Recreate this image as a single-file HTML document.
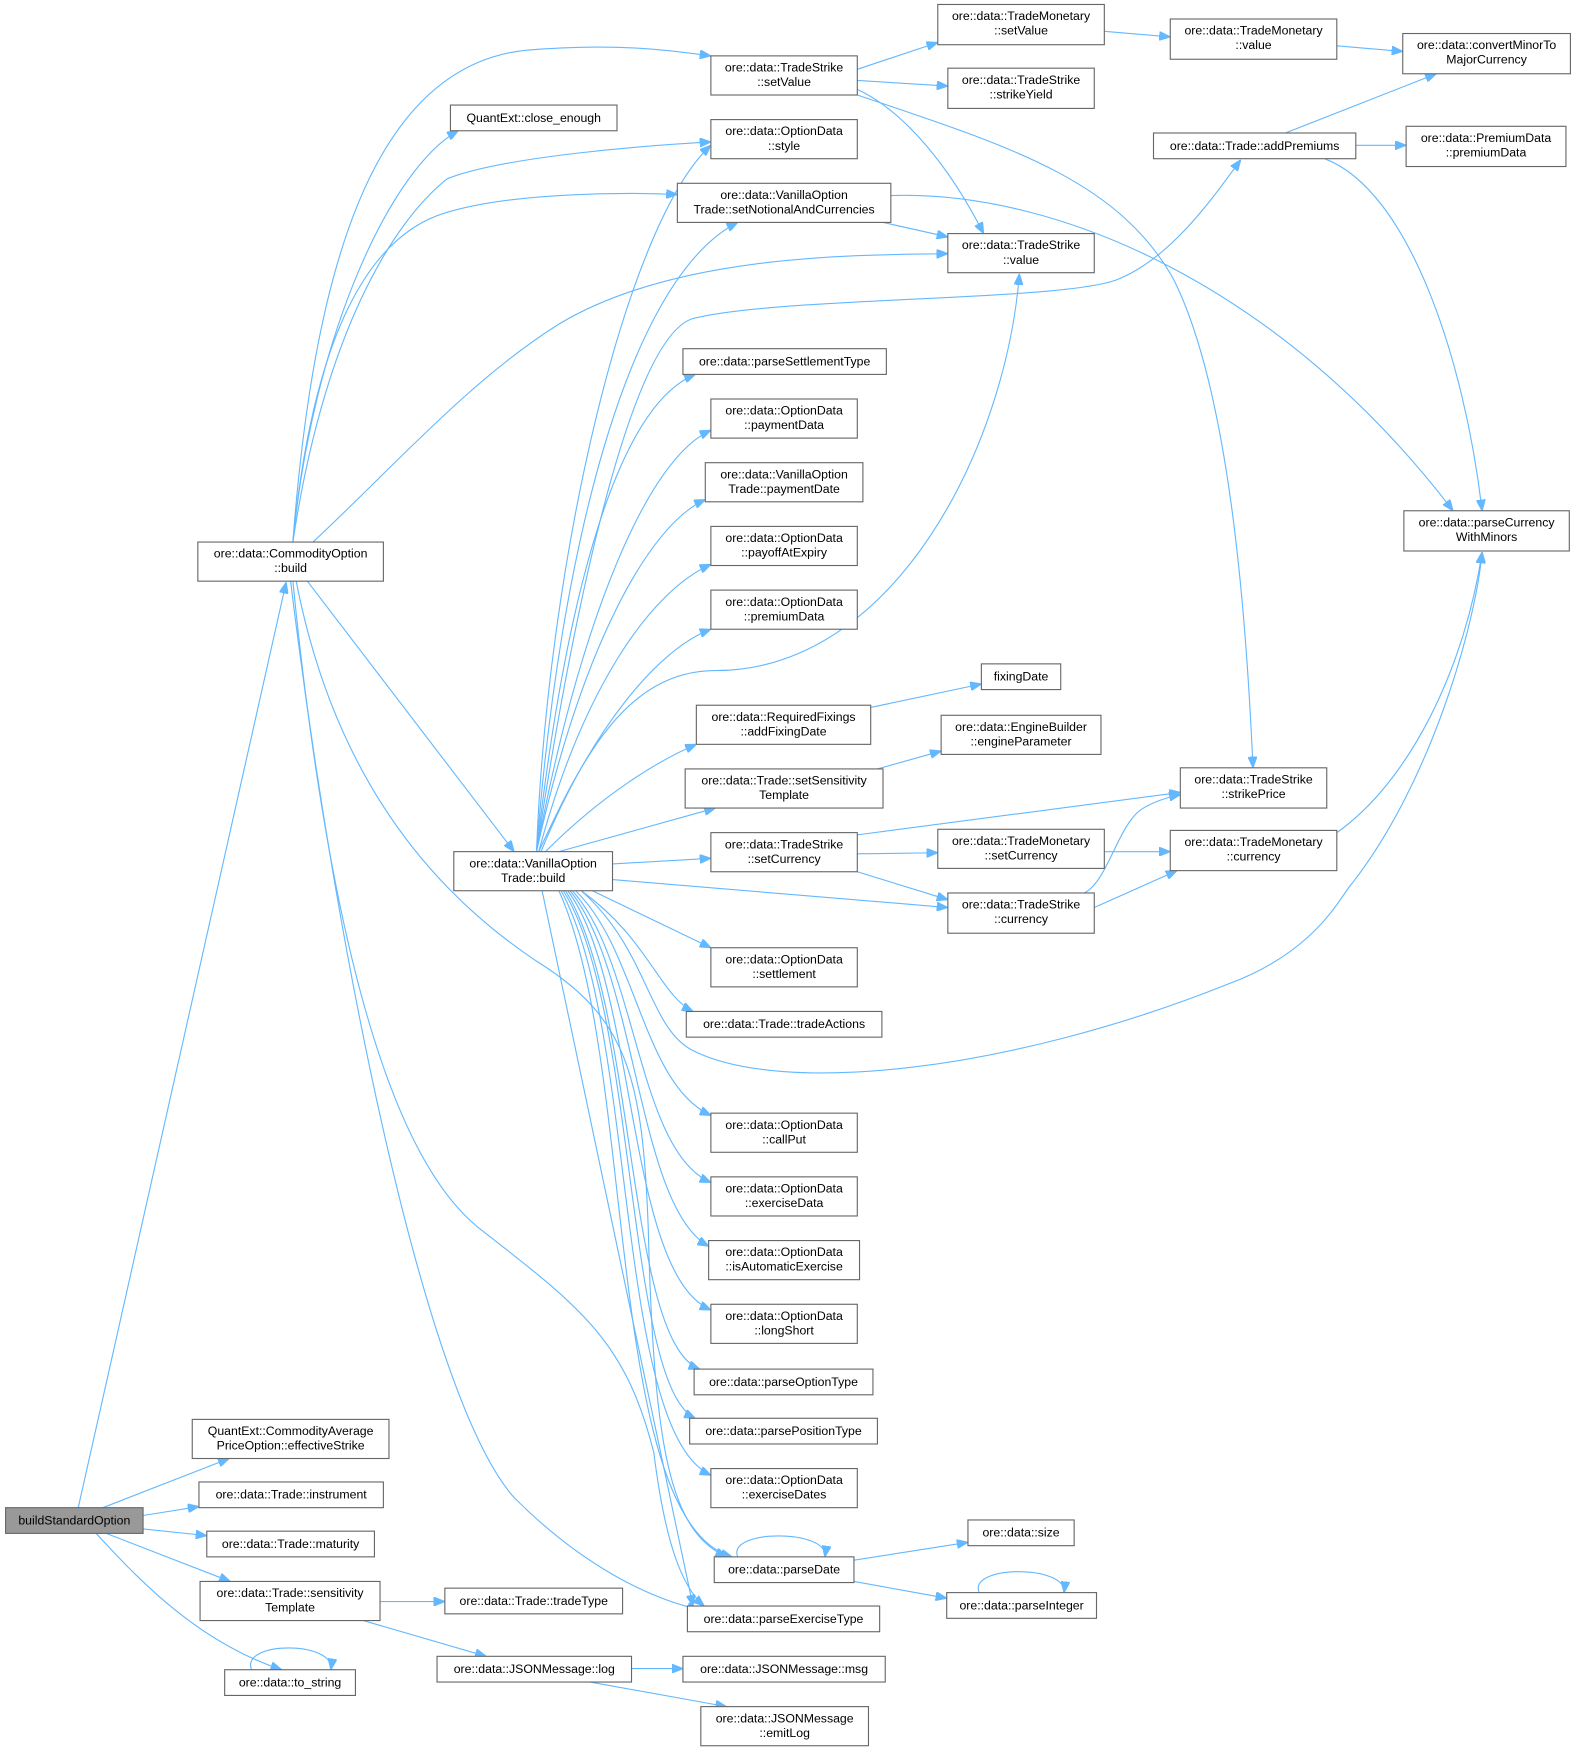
<!DOCTYPE html>
<html><head><meta charset="utf-8"><style>
html,body{margin:0;padding:0;background:#fff;}
svg{display:block;}
text{font-family:"Liberation Sans",sans-serif;font-size:11px;fill:#000;text-anchor:middle;}
rect{fill:#fff;stroke:#666;stroke-width:1;}
path{fill:none;stroke:#63b8ff;stroke-width:1;}
</style></head><body>
<svg width="1576" height="1753" viewBox="0 0 1410 1568.5" preserveAspectRatio="none" xmlns="http://www.w3.org/2000/svg">
<defs><marker id="a" markerWidth="10" markerHeight="8" refX="10" refY="4" orient="auto" markerUnits="userSpaceOnUse"><path d="M0,0 L10,4 L0,8 z" style="fill:#63b8ff;stroke:#63b8ff"/></marker></defs>
<g marker-end="url(#a)">
<!-- buildStandardOption -->
<path d="M70,1349 L256,521"/>
<path d="M92,1349 L205,1305"/>
<path d="M128,1356 L178,1348"/>
<path d="M128,1368 L185,1374"/>
<path d="M95,1372 L206,1415"/>
<path d="M86,1372 C130,1420 180,1470 252,1494"/>
<path d="M225,1494 C215,1468 300,1468 296,1494"/>
<path d="M340,1433 L398,1433"/>
<path d="M325,1450 L435,1482"/>
<path d="M565,1493 L611,1493"/>
<path d="M528,1505 L650,1527"/>
<!-- CommodityOption::build -->
<path d="M262,485 C280,250 330,60 470,45 C550,38 600,45 636,50"/>
<path d="M262,485 C280,300 350,150 410,117"/>
<path d="M262,485 C290,300 350,200 400,160 C450,140 580,130 636,127"/>
<path d="M262,485 C280,300 330,210 400,190 C460,172 560,172 606,174"/>
<path d="M280,485 C350,420 420,340 500,290 C600,230 750,228 848,227"/>
<path d="M275,520 L460,762"/>
<path d="M265,520 C300,700 390,800 480,860 C560,910 575,960 580,1100 C585,1300 600,1370 650,1393"/>
<path d="M262,520 C290,800 340,1030 430,1100 C520,1170 560,1200 585,1300 C595,1380 610,1420 630,1437"/>
<path d="M260,520 C300,850 380,1250 460,1340 C520,1400 580,1430 625,1440"/>
<!-- VanillaOptionTrade::build -->
<path d="M480,762 C490,500 560,200 636,130"/>
<path d="M480,762 C500,500 560,250 660,199"/>
<path d="M482,762 C520,680 560,600 640,600 C800,600 900,400 912,245"/>
<path d="M480,762 C520,500 570,300 620,285 C700,265 950,270 1000,250 C1050,230 1090,170 1110,143"/>
<path d="M480,762 C510,500 560,360 622,335"/>
<path d="M480,762 C520,550 580,410 636,385"/>
<path d="M480,762 C520,580 580,470 631,447"/>
<path d="M482,762 C520,620 580,530 636,505"/>
<path d="M484,762 C530,650 590,580 636,563"/>
<path d="M488,762 C540,710 590,680 623,666"/>
<path d="M500,762 L640,723"/>
<path d="M548,773 L636,768"/>
<path d="M548,787 L848,812"/>
<path d="M530,797 L636,848"/>
<path d="M520,797 C580,840 590,890 620,905"/>
<path d="M520,797 C580,850 580,920 620,940 C700,980 900,960 1100,880 C1180,850 1200,800 1210,790 C1280,700 1320,560 1326,494"/>
<path d="M515,797 C570,850 575,970 636,998"/>
<path d="M512,797 C570,860 570,1030 636,1058"/>
<path d="M510,797 C570,870 570,1080 634,1115"/>
<path d="M508,797 C570,880 560,1140 636,1172"/>
<path d="M506,797 C570,900 560,1200 626,1225"/>
<path d="M504,797 C570,900 560,1240 622,1269"/>
<path d="M502,797 C570,920 550,1280 636,1320"/>
<path d="M500,797 C570,950 540,1360 655,1393"/>
<path d="M485,797 L620,1437"/>
<!-- others -->
<path d="M767,62 L839,38"/>
<path d="M767,72 L848,77"/>
<path d="M767,80 C810,100 850,150 880,209"/>
<path d="M767,85 C900,130 1000,160 1050,250 C1100,350 1115,550 1121,687"/>
<path d="M790,199 L848,212"/>
<path d="M797,175 C950,170 1150,260 1300,457"/>
<path d="M988,28 L1047,33"/>
<path d="M1196,41 L1255,46"/>
<path d="M1150,119 L1285,66"/>
<path d="M1213,130 L1258,130"/>
<path d="M1185,142 C1260,170 1310,320 1326,457"/>
<path d="M779,633 L878,612"/>
<path d="M785,688 L842,672"/>
<path d="M767,747 L1056,709"/>
<path d="M767,764 L839,763"/>
<path d="M767,780 L848,805"/>
<path d="M988,762 L1047,762"/>
<path d="M979,812 L1053,779"/>
<path d="M970,799 C990,790 1000,740 1020,725 C1030,718 1045,713 1056,711"/>
<path d="M1196,745 C1260,700 1310,600 1326,494"/>
<path d="M764,1396 L866,1380"/>
<path d="M764,1415 L847,1430"/>
<path d="M660,1393 C650,1368 742,1368 738,1393"/>
<path d="M876,1425 C866,1400 955,1400 952,1425"/>
</g>
<!-- nodes -->
<rect x="5" y="1349" width="123" height="23" style="fill:#999"/><text x="66.5" y="1364">buildStandardOption</text>
<rect x="177" y="485" width="166" height="35"/><text x="260" y="499">ore::data::CommodityOption</text><text x="260" y="512">::build</text>
<rect x="172" y="1270" width="176" height="35"/><text x="260" y="1284">QuantExt::CommodityAverage</text><text x="260" y="1297">PriceOption::effectiveStrike</text>
<rect x="178" y="1326" width="165" height="23"/><text x="260.5" y="1341">ore::data::Trade::instrument</text>
<rect x="185" y="1370" width="150" height="23"/><text x="260" y="1385">ore::data::Trade::maturity</text>
<rect x="179" y="1415" width="161" height="35"/><text x="259.5" y="1429">ore::data::Trade::sensitivity</text><text x="259.5" y="1442">Template</text>
<rect x="201" y="1494" width="117" height="23"/><text x="259.5" y="1509">ore::data::to_string</text>
<rect x="398" y="1421" width="159" height="23"/><text x="477.5" y="1436">ore::data::Trade::tradeType</text>
<rect x="391" y="1482" width="174" height="23"/><text x="478" y="1497">ore::data::JSONMessage::log</text>
<rect x="611" y="1482" width="181" height="23"/><text x="701.5" y="1497">ore::data::JSONMessage::msg</text>
<rect x="627" y="1527" width="150" height="35"/><text x="702" y="1541">ore::data::JSONMessage</text><text x="702" y="1554">::emitLog</text>
<rect x="406" y="762" width="142" height="35"/><text x="477" y="776">ore::data::VanillaOption</text><text x="477" y="789">Trade::build</text>
<rect x="636" y="50" width="131" height="35"/><text x="701.5" y="64">ore::data::TradeStrike</text><text x="701.5" y="77">::setValue</text>
<rect x="403" y="94" width="149" height="23"/><text x="477.5" y="109">QuantExt::close_enough</text>
<rect x="636" y="107" width="131" height="35"/><text x="701.5" y="121">ore::data::OptionData</text><text x="701.5" y="134">::style</text>
<rect x="606" y="164" width="191" height="35"/><text x="701.5" y="178">ore::data::VanillaOption</text><text x="701.5" y="191">Trade::setNotionalAndCurrencies</text>
<rect x="611" y="312" width="182" height="23"/><text x="702" y="327">ore::data::parseSettlementType</text>
<rect x="636" y="357" width="131" height="35"/><text x="701.5" y="371">ore::data::OptionData</text><text x="701.5" y="384">::paymentData</text>
<rect x="631" y="414" width="141" height="35"/><text x="701.5" y="428">ore::data::VanillaOption</text><text x="701.5" y="441">Trade::paymentDate</text>
<rect x="636" y="471" width="131" height="35"/><text x="701.5" y="485">ore::data::OptionData</text><text x="701.5" y="498">::payoffAtExpiry</text>
<rect x="636" y="528" width="131" height="35"/><text x="701.5" y="542">ore::data::OptionData</text><text x="701.5" y="555">::premiumData</text>
<rect x="623" y="631" width="156" height="35"/><text x="701" y="645">ore::data::RequiredFixings</text><text x="701" y="658">::addFixingDate</text>
<rect x="613" y="688" width="177" height="35"/><text x="701.5" y="702">ore::data::Trade::setSensitivity</text><text x="701.5" y="715">Template</text>
<rect x="636" y="745" width="131" height="35"/><text x="701.5" y="759">ore::data::TradeStrike</text><text x="701.5" y="772">::setCurrency</text>
<rect x="636" y="848" width="131" height="35"/><text x="701.5" y="862">ore::data::OptionData</text><text x="701.5" y="875">::settlement</text>
<rect x="614" y="905" width="175" height="23"/><text x="701.5" y="920">ore::data::Trade::tradeActions</text>
<rect x="636" y="996" width="131" height="35"/><text x="701.5" y="1010">ore::data::OptionData</text><text x="701.5" y="1023">::callPut</text>
<rect x="636" y="1053" width="131" height="35"/><text x="701.5" y="1067">ore::data::OptionData</text><text x="701.5" y="1080">::exerciseData</text>
<rect x="634" y="1110" width="135" height="35"/><text x="701.5" y="1124">ore::data::OptionData</text><text x="701.5" y="1137">::isAutomaticExercise</text>
<rect x="636" y="1167" width="131" height="35"/><text x="701.5" y="1181">ore::data::OptionData</text><text x="701.5" y="1194">::longShort</text>
<rect x="621" y="1225" width="160" height="23"/><text x="701" y="1240">ore::data::parseOptionType</text>
<rect x="617" y="1269" width="168" height="23"/><text x="701" y="1284">ore::data::parsePositionType</text>
<rect x="636" y="1314" width="131" height="35"/><text x="701.5" y="1328">ore::data::OptionData</text><text x="701.5" y="1341">::exerciseDates</text>
<rect x="639" y="1393" width="125" height="23"/><text x="701.5" y="1408">ore::data::parseDate</text>
<rect x="615" y="1437" width="172" height="23"/><text x="701" y="1452">ore::data::parseExerciseType</text>
<rect x="839" y="4" width="149" height="36"/><text x="913.5" y="18">ore::data::TradeMonetary</text><text x="913.5" y="31">::setValue</text>
<rect x="848" y="61" width="131" height="36"/><text x="913.5" y="75">ore::data::TradeStrike</text><text x="913.5" y="88">::strikeYield</text>
<rect x="848" y="209" width="131" height="35"/><text x="913.5" y="223">ore::data::TradeStrike</text><text x="913.5" y="236">::value</text>
<rect x="878" y="594" width="71" height="23"/><text x="913.5" y="609">fixingDate</text>
<rect x="842" y="640" width="143" height="35"/><text x="913.5" y="654">ore::data::EngineBuilder</text><text x="913.5" y="667">::engineParameter</text>
<rect x="839" y="742" width="149" height="35"/><text x="913.5" y="756">ore::data::TradeMonetary</text><text x="913.5" y="769">::setCurrency</text>
<rect x="848" y="799" width="131" height="36"/><text x="913.5" y="813">ore::data::TradeStrike</text><text x="913.5" y="826">::currency</text>
<rect x="866" y="1360" width="95" height="23"/><text x="913.5" y="1375">ore::data::size</text>
<rect x="847" y="1425" width="134" height="23"/><text x="914" y="1440">ore::data::parseInteger</text>
<rect x="1047" y="17" width="149" height="36"/><text x="1121.5" y="31">ore::data::TradeMonetary</text><text x="1121.5" y="44">::value</text>
<rect x="1255" y="30" width="150" height="36"/><text x="1330" y="44">ore::data::convertMinorTo</text><text x="1330" y="57">MajorCurrency</text>
<rect x="1032" y="119" width="181" height="23"/><text x="1122.5" y="134">ore::data::Trade::addPremiums</text>
<rect x="1258" y="113" width="143" height="36"/><text x="1329.5" y="127">ore::data::PremiumData</text><text x="1329.5" y="140">::premiumData</text>
<rect x="1256" y="457" width="148" height="36"/><text x="1330" y="471">ore::data::parseCurrency</text><text x="1330" y="484">WithMinors</text>
<rect x="1056" y="687" width="131" height="36"/><text x="1121.5" y="701">ore::data::TradeStrike</text><text x="1121.5" y="714">::strikePrice</text>
<rect x="1047" y="743" width="149" height="36"/><text x="1121.5" y="757">ore::data::TradeMonetary</text><text x="1121.5" y="770">::currency</text>
</svg>
</body></html>
